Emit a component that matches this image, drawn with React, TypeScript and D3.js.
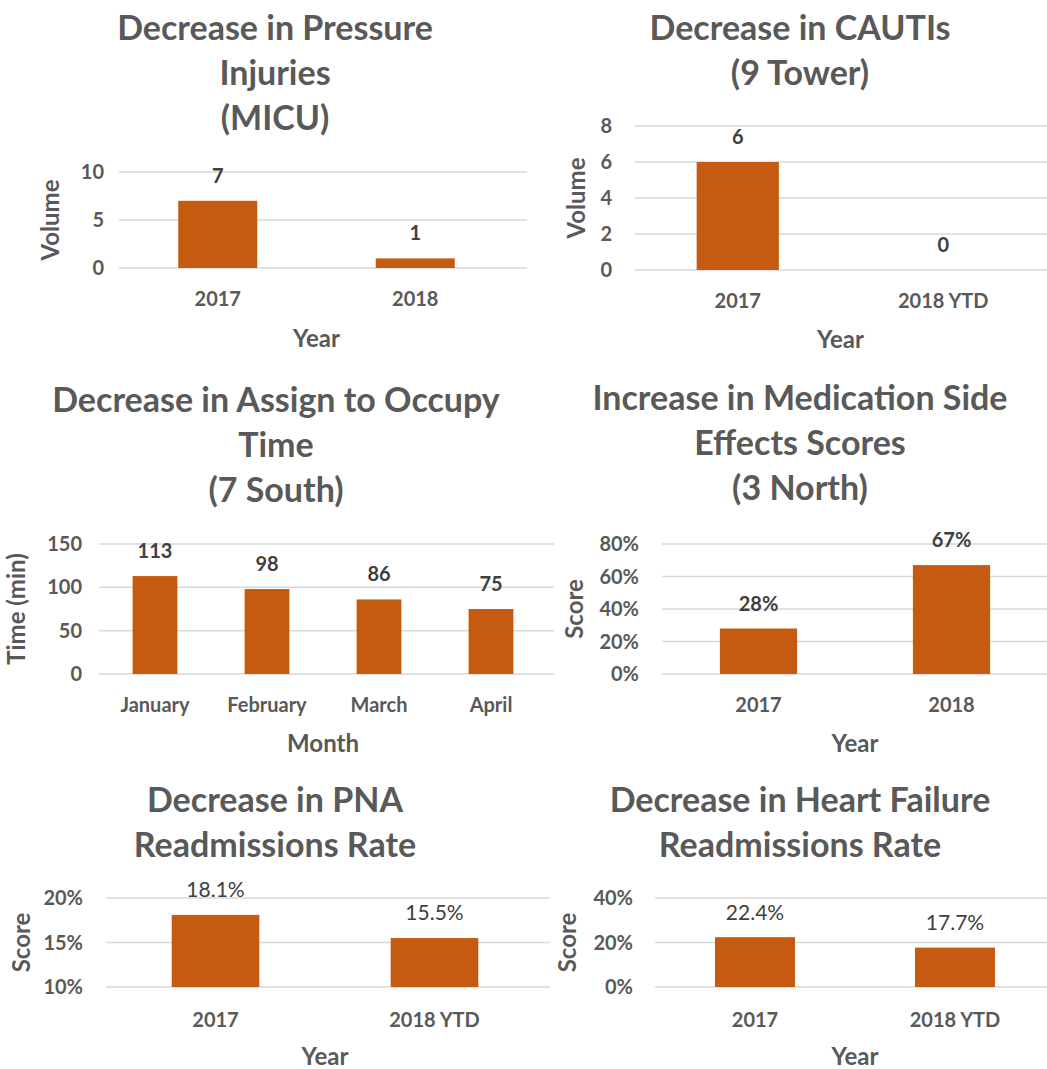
import { useEffect, useRef } from "react";
import * as d3 from "d3";

// data
const pressureYears = ["2017", "2018"];
const pressureVolume = [7, 1];
const pressureTicks = [0, 5, 10];

const cautiYears = ["2017", "2018 YTD"];
const cautiVolume = [6, 0];
const cautiTicks = [0, 2, 4, 6, 8];

const occupyMonths = ["January", "February", "March", "April"];
const occupyMinutes = [113, 98, 86, 75];
const occupyTicks = [0, 50, 100, 150];

const sideEffectYears = ["2017", "2018"];
const sideEffectScores = [0.28, 0.67];
const sideEffectTicks = [0, 0.2, 0.4, 0.6, 0.8];

const pnaYears = ["2017", "2018 YTD"];
const pnaRates = [0.181, 0.155];
const pnaTicks = [0.1, 0.15, 0.2];

const hfYears = ["2017", "2018 YTD"];
const hfRates = [0.224, 0.177];
const hfTicks = [0, 0.2, 0.4];

const W = 1047;
const H = 1069;
const FONT = "Lato, 'Open Sans', sans-serif";
const BAR = "#C55A11";
const TEXT = "#595959";
const LABEL = "#404040";
const GRID = "#D9D9D9";

const pct0 = d3.format(".0%");
const pct1 = d3.format(".1%");

const panels = [
  {
    title: ["Decrease in Pressure", "Injuries", "(MICU)"],
    titleX: 275, titleY: 28,
    cats: pressureYears, vals: pressureVolume, ticks: pressureTicks,
    domain: [0, 10], tickFmt: (d: number) => String(d), valFmt: (d: number) => String(d), boldVals: true,
    x0: 119, x1: 514, gridX1: 527, yTop: 172, yBot: 268,
    tickRight: 104, yLabel: "Volume", yLabelX: 51, xLabel: "Year", xTickY: 299, xLabelY: 339,
  },
  {
    title: ["Decrease in CAUTIs", "(9 Tower)"],
    titleX: 800, titleY: 28,
    cats: cautiYears, vals: cautiVolume, ticks: cautiTicks,
    domain: [0, 8], tickFmt: (d: number) => String(d), valFmt: (d: number) => String(d), boldVals: true,
    x0: 635, x1: 1046, gridX1: 1047, yTop: 126, yBot: 270,
    tickRight: 612, yLabel: "Volume", yLabelX: 577, xLabel: "Year", xTickY: 301, xLabelY: 340,
  },
  {
    title: ["Decrease in Assign to Occupy", "Time", "(7 South)"],
    titleX: 276, titleY: 400,
    cats: occupyMonths, vals: occupyMinutes, ticks: occupyTicks,
    domain: [0, 150], tickFmt: (d: number) => String(d), valFmt: (d: number) => String(d), boldVals: true,
    x0: 99, x1: 547, gridX1: 554, yTop: 544, yBot: 674,
    tickRight: 82, yLabel: "Time (min)", yLabelX: 17, xLabel: "Month", xTickY: 705, xLabelY: 744,
  },
  {
    title: ["Increase in Medication Side", "Effects Scores", "(3 North)"],
    titleX: 800, titleY: 398,
    cats: sideEffectYears, vals: sideEffectScores, ticks: sideEffectTicks,
    domain: [0, 0.8], tickFmt: pct0, valFmt: pct0, boldVals: true,
    x0: 662, x1: 1048, gridX1: 1047, yTop: 544, yBot: 674,
    tickRight: 639, yLabel: "Score", yLabelX: 575, xLabel: "Year", xTickY: 705, xLabelY: 744,
  },
  {
    title: ["Decrease in PNA", "Readmissions Rate"],
    titleX: 275, titleY: 800,
    cats: pnaYears, vals: pnaRates, ticks: pnaTicks,
    domain: [0.1, 0.2], tickFmt: pct0, valFmt: pct1, boldVals: false,
    x0: 106, x1: 544, gridX1: 550, yTop: 898, yBot: 987,
    tickRight: 83, yLabel: "Score", yLabelX: 22, xLabel: "Year", xTickY: 1020, xLabelY: 1057,
  },
  {
    title: ["Decrease in Heart Failure", "Readmissions Rate"],
    titleX: 800, titleY: 800,
    cats: hfYears, vals: hfRates, ticks: hfTicks,
    domain: [0, 0.4], tickFmt: pct0, valFmt: pct1, boldVals: false,
    x0: 655, x1: 1055, gridX1: 1047, yTop: 898, yBot: 987,
    tickRight: 633, yLabel: "Score", yLabelX: 568, xLabel: "Year", xTickY: 1020, xLabelY: 1057,
  },
];

export default function App() {
  const svgRef = useRef<SVGSVGElement>(null);

  useEffect(() => {
    document.body.style.margin = "0";
    const svg = d3.select(svgRef.current);
    svg.selectAll("*").remove();

    panels.forEach((p) => {
      const g = svg.append("g");

      const x = d3.scaleBand().domain(p.cats).range([p.x0, p.x1]).paddingInner(0.6).paddingOuter(0.3);
      const y = d3.scaleLinear().domain(p.domain).range([p.yBot, p.yTop]);

      // gridlines
      g.selectAll(".grid")
        .data(p.ticks)
        .enter()
        .append("line")
        .attr("x1", p.x0)
        .attr("x2", p.gridX1)
        .attr("y1", (d) => y(d))
        .attr("y2", (d) => y(d))
        .attr("stroke", GRID)
        .attr("stroke-width", 1.5);

      // y tick labels
      g.selectAll(".ytick")
        .data(p.ticks)
        .enter()
        .append("text")
        .attr("x", p.tickRight)
        .attr("y", (d) => y(d))
        .attr("dy", "0.35em")
        .attr("text-anchor", "end")
        .attr("font-family", FONT)
        .attr("font-weight", "bold")
        .attr("font-size", 20)
        .attr("fill", TEXT)
        .text((d) => p.tickFmt(d));

      // bars
      g.selectAll(".bar")
        .data(p.vals)
        .enter()
        .append("rect")
        .attr("x", (_, i) => x(p.cats[i])!)
        .attr("y", (d) => y(d))
        .attr("width", x.bandwidth())
        .attr("height", (d) => y(p.domain[0]) - y(d))
        .attr("fill", BAR);

      // value labels
      g.selectAll(".val")
        .data(p.vals)
        .enter()
        .append("text")
        .attr("x", (_, i) => x(p.cats[i])! + x.bandwidth() / 2)
        .attr("y", (d) => y(d) - 25)
        .attr("dy", "0.35em")
        .attr("text-anchor", "middle")
        .attr("font-family", FONT)
        .attr("font-weight", p.boldVals ? "bold" : "normal")
        .attr("font-size", p.boldVals ? 20 : 21)
        .attr("fill", LABEL)
        .text((d) => p.valFmt(d));

      // x tick labels
      g.selectAll(".xtick")
        .data(p.cats)
        .enter()
        .append("text")
        .attr("x", (d) => x(d)! + x.bandwidth() / 2)
        .attr("y", p.xTickY)
        .attr("dy", "0.35em")
        .attr("text-anchor", "middle")
        .attr("font-family", FONT)
        .attr("font-weight", "bold")
        .attr("font-size", 20)
        .attr("fill", TEXT)
        .text((d) => d);

      // axis titles
      g.append("text")
        .attr("x", (p.x0 + p.x1) / 2)
        .attr("y", p.xLabelY)
        .attr("dy", "0.35em")
        .attr("text-anchor", "middle")
        .attr("font-family", FONT)
        .attr("font-weight", "bold")
        .attr("font-size", 24)
        .attr("fill", TEXT)
        .text(p.xLabel);

      g.append("text")
        .attr("transform", `translate(${p.yLabelX},${(p.yTop + p.yBot) / 2}) rotate(-90)`)
        .attr("dy", "0.35em")
        .attr("text-anchor", "middle")
        .attr("font-family", FONT)
        .attr("font-weight", "bold")
        .attr("font-size", 24)
        .attr("fill", TEXT)
        .text(p.yLabel);

      // title
      g.selectAll(".title")
        .data(p.title)
        .enter()
        .append("text")
        .attr("x", p.titleX)
        .attr("y", (_, i) => p.titleY + i * 45)
        .attr("dy", "0.35em")
        .attr("text-anchor", "middle")
        .attr("font-family", FONT)
        .attr("font-weight", "bold")
        .attr("font-size", 34)
        .attr("fill", TEXT)
        .text((d) => d);
    });
  }, []);

  return <svg ref={svgRef} width={W} height={H} style={{ display: "block", background: "#fff" }} />;
}
